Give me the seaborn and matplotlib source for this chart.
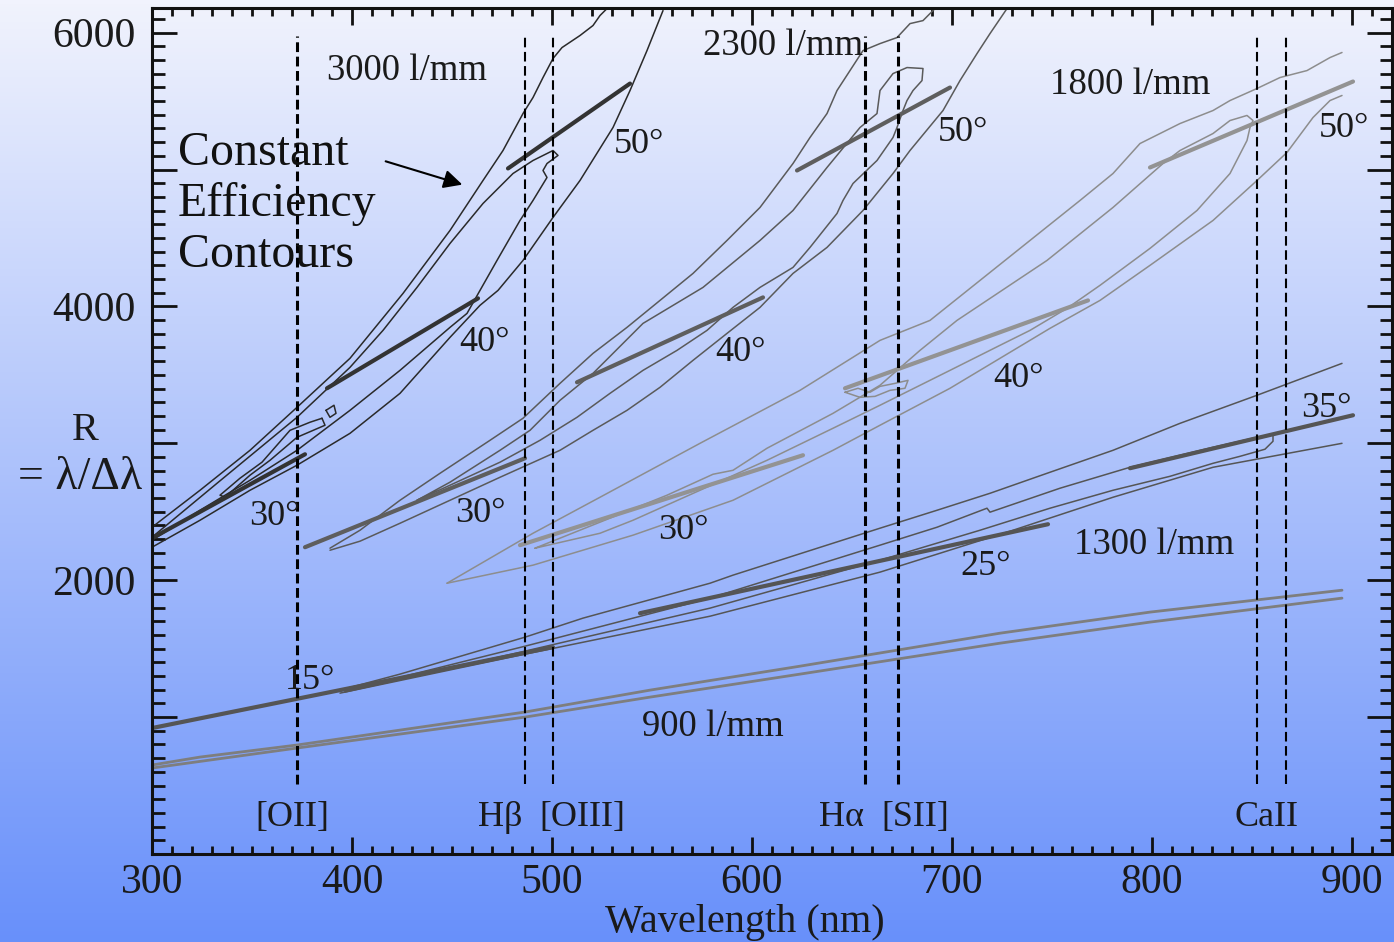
import numpy as np
import pandas as pd
import seaborn as sns
import matplotlib.pyplot as plt
from matplotlib.ticker import MultipleLocator, FuncFormatter

# ---------------- data: (wavelength nm, R) ----------------

# 3000 l/mm
g3000_outer_top = [(300, 2387), (324, 2657), (349, 2949), (372.5, 3263), (399, 3621), (425.5, 4095),
                   (449, 4555), (465.5, 4920), (475.5, 5139), (485.5, 5409), (490.5, 5526), (495.5, 5672),
                   (500.5, 5811), (505, 5891), (514, 5979), (520.5, 6052), (524, 6125), (527.5, 6176)]
g3000_outer_bot = [(300, 2241), (324, 2438), (349, 2657), (372.5, 2840), (399, 3073), (424, 3365),
                   (449, 3774), (464, 4008), (473, 4117), (485.5, 4336), (500.5, 4650), (514, 4920),
                   (530.5, 5307), (539, 5577), (547.5, 5869), (555.5, 6161)]
g3000_inner = [(300, 2314), (332.5, 2708), (372.5, 3190), (399, 3555), (415.5, 3825), (432.5, 4139),
               (449, 4460), (465.5, 4752), (480.5, 4971), (490.5, 5066), (497.5, 5117), (500.5, 5139),
               (503, 5103), (497.5, 5044), (495.5, 4993), (497.5, 4942), (490.5, 4774), (484, 4628),
               (472.5, 4336), (464, 4117), (457.5, 3949), (449, 3847), (424, 3533), (399, 3241),
               (372.5, 2949), (349, 2730), (324, 2511), (300, 2292)]
g3000_island = [(385, 3183), (386.5, 3132), (372.5, 3044), (359, 2876), (349, 2767), (336.5, 2606),
                (334, 2621), (344, 2745), (355, 2862), (369, 3095), (379, 3154), (385, 3183)]
g3000_quad = [(387, 3241), (391, 3278), (392, 3219), (389, 3190), (387, 3241)]
tilt_3000 = [[(478, 5008), (539, 5628)], [(387.5, 3402), (463, 4059)], [(300, 2307), (376.5, 2920)]]

# 2300 l/mm
g2300_outer_top = [(389, 2234), (404, 2365), (424, 2584), (444, 2781), (469, 3022), (485.5, 3183),
                   (504, 3438), (520.5, 3657), (537.5, 3847), (554, 4044), (570.5, 4241), (587.5, 4482),
                   (604, 4723), (620.5, 5044), (629, 5234), (637.5, 5409), (642.5, 5577), (649, 5723),
                   (655.5, 5869), (664, 5920), (672.5, 5964), (679, 6066), (685.5, 6088), (691.5, 6176)]
g2300_outer_bot = [(389, 2219), (404, 2285), (424, 2416), (449, 2584), (474, 2752), (504, 2949),
                   (520.5, 3095), (537.5, 3241), (554, 3409), (570.5, 3606), (587.5, 3803), (604, 3993),
                   (620.5, 4241), (637.5, 4431), (655.5, 4701), (670.5, 4971), (679, 5139), (695.5, 5431),
                   (704, 5650), (712.5, 5847), (719, 5993), (727.5, 6176)]
g2300_inner = [(432.5, 2584), (449, 2716), (474, 2949), (489, 3095), (504, 3314), (520.5, 3511),
               (545.5, 3876), (575.5, 4139), (604, 4482), (620.5, 4701), (637.5, 5015), (654, 5307),
               (662.5, 5409), (664, 5577), (670.5, 5701), (677.5, 5745), (685.5, 5738), (685, 5650),
               (680.5, 5577), (677.5, 5504), (675.5, 5431), (672.5, 5307), (670.5, 5234), (662.5, 5066),
               (650.5, 4898), (645.5, 4774), (642.5, 4679), (629, 4431), (620.5, 4285), (604, 4139),
               (590.5, 3993), (577.5, 3825), (562.5, 3679), (545.5, 3533), (529, 3365), (512.5, 3190),
               (494, 3022), (474, 2862), (449, 2694), (432.5, 2584)]
tilt_2300 = [[(622.5, 4993), (699, 5599)], [(512.5, 3446), (605.5, 4066)], [(376.5, 2241), (486.5, 2891)]]

# 1800 l/mm
g1800_outer_top = [(447.5, 1978), (490.5, 2343), (524, 2606), (574, 3000), (624, 3387), (664, 3752),
                   (689, 3898), (701.5, 4044), (714, 4190), (739, 4482), (764, 4774), (780.5, 4971),
                   (794, 5190), (804, 5263), (814, 5336), (830.5, 5431), (839, 5504), (852.5, 5592),
                   (864, 5672), (877.5, 5723), (889, 5818), (895, 5855)]
g1800_outer_bot = [(447.5, 1978), (490.5, 2110), (540.5, 2329), (590.5, 2584), (640.5, 2949), (664, 3132),
                   (699, 3402), (724, 3621), (749, 3840), (774, 4044), (799, 4300), (830.5, 4628),
                   (852.5, 4920), (867.5, 5125), (880.5, 5380), (889, 5504), (895, 5541)]
g1800_inner = [(491.5, 2234), (524, 2424), (557.5, 2621), (580.5, 2774), (590.5, 2803), (607.5, 2964),
               (640.5, 3219), (664, 3424), (684, 3679), (702.5, 3898), (747.5, 4336), (780.5, 4723),
               (805.5, 5044), (814, 5139), (830.5, 5263), (839, 5358), (847.5, 5395), (850.5, 5358),
               (849, 5307), (847.5, 5212), (839, 4971), (822.5, 4701), (799, 4424), (774, 4154),
               (757.5, 3986), (739, 3825), (724, 3716), (699, 3533), (674, 3351), (664, 3278),
               (640.5, 3110), (607.5, 2876), (574, 2657), (540.5, 2438), (524, 2343), (491.5, 2234)]
g1800_island = [(646.5, 3373), (653, 3402), (659, 3373), (664, 3416), (671.5, 3438), (678, 3460),
                (676.5, 3402), (669, 3387), (661.5, 3343), (654, 3336), (646.5, 3373)]
tilt_1800 = [[(799, 5015), (900.5, 5643)], [(646.5, 3402), (768, 4044)], [(484, 2256), (625.5, 2913)]]

# 1300 l/mm
g1300_outer_top = [(394, 1197), (424, 1314), (486.5, 1584), (515.5, 1723), (579, 1978), (590.5, 2037),
                   (664, 2380), (692.5, 2511), (719, 2635), (747.5, 2781), (780.5, 2949), (814, 3146),
                   (852.5, 3351), (895, 3584)]
g1300_outer_bot = [(394, 1175), (486.5, 1460), (579, 1737), (664, 2059), (730.5, 2365), (780.5, 2606),
                   (830.5, 2825), (895, 3000)]
g1300_inner = [(396.5, 1190), (486.5, 1518), (579, 1869), (664, 2256), (692.5, 2387), (717.5, 2526),
               (719, 2497), (754, 2672), (789, 2825), (830.5, 2971), (852.5, 3044), (860.5, 3066),
               (860.5, 3015), (856.5, 2957), (844, 2905), (830.5, 2854), (809, 2759), (780.5, 2657),
               (749, 2526), (714, 2365), (664, 2146), (579, 1796), (486.5, 1482), (396.5, 1183)]
tilt_1300 = [[(789, 2818), (900.5, 3205)], [(544, 1759), (748, 2409)], [(300, 920), (500.5, 1511)]]

# 900 l/mm
g900_a = [(300, 650), (324, 708), (372.5, 796), (424, 905), (486.5, 1037), (549, 1197), (624, 1372),
          (724, 1613), (799, 1767), (895, 1927)]
g900_b = [(300, 628), (372.5, 774), (486.5, 1000), (549, 1146), (624, 1314), (724, 1540), (799, 1694),
          (895, 1869)]

# emission lines
line_wl = [372.5, 486.5, 500.5, 656.5, 672.8, 852.5, 867]
line_lw = [2.2, 1.5, 1.5, 2.2, 2.2, 1.5, 1.5]
line_names = ['[OII]', 'Hβ', '[OIII]', 'Hα', '[SII]', 'CaII']
line_name_wl = [370, 474, 515, 645, 681.5, 857.5]

# labels
grating_labels = ['3000 l/mm', '2300 l/mm', '1800 l/mm', '1300 l/mm', '900 l/mm']
grating_label_wl = [427.5, 615.5, 789, 801, 580.5]
grating_label_R = [5723, 5906, 5621, 2256, 927]

angle_labels = ['50°', '40°', '30°', '50°', '40°', '30°', '50°', '40°', '30°', '35°', '25°', '15°']
angle_wl = [543.5, 466.5, 361, 705.5, 594.5, 464, 896, 733, 565.5, 887, 717, 379]
angle_R = [5183, 3738, 2467, 5271, 3665, 2489, 5300, 3475, 2365, 3256, 2102, 1270]

# ---------------- plotting ----------------
sns.set_style("ticks")
plt.rcParams['font.family'] = ['Liberation Serif', 'DejaVu Serif']

fig = plt.figure(figsize=(13.94, 9.42), dpi=100)

# gradient background
bg = fig.add_axes([0, 0, 1, 1], zorder=-10)
top_col = np.array([241, 243, 253]) / 255
bot_col = np.array([104, 144, 250]) / 255
t = np.linspace(0, 1, 256)[:, None, None]
grad = top_col[None, None, :] * (1 - t) + bot_col[None, None, :] * t
bg.imshow(grad, aspect='auto', extent=[0, 1, 0, 1])
bg.set_axis_off()

ax = fig.add_axes([152 / 1394, 1 - 854 / 942, 1240 / 1394, 846 / 942])
ax.set_facecolor('none')


def draw(pts, color, lw):
    df = pd.DataFrame(pts, columns=['wl', 'R'])
    sns.lineplot(data=df, x='wl', y='R', sort=False, estimator=None,
                 color=color, linewidth=lw, ax=ax)


# thin contours
for c in [g3000_outer_top, g3000_outer_bot, g3000_inner, g3000_island, g3000_quad]:
    draw(c, '#2a2a2a', 1.1)
for c in [g2300_outer_top, g2300_outer_bot, g2300_inner]:
    draw(c, '#5a5a5a', 1.1)
for c in [g1800_outer_top, g1800_outer_bot, g1800_inner, g1800_island]:
    draw(c, '#8d8d8d', 1.1)
for c in [g1300_outer_top, g1300_outer_bot, g1300_inner]:
    draw(c, '#555555', 1.1)
for c in [g900_a, g900_b]:
    draw(c, '#7e7e7e', 2.0)

# thick tilt lines
for seg in tilt_3000:
    draw(seg, '#333333', 3.0)
for seg in tilt_2300:
    draw(seg, '#5e5e5e', 3.0)
for seg in tilt_1800:
    draw(seg, '#939393', 3.0)
for seg in tilt_1300:
    draw(seg, '#555555', 3.0)

# emission lines
for wl, lw in zip(line_wl, line_lw):
    dash = (0, (3.2, 1.5)) if lw > 2 else (0, (4.6, 2.2))
    ax.plot([wl, wl], [510, 5975], color='black', lw=lw, ls=dash)
for name, wl in zip(line_names, line_name_wl):
    ax.text(wl, 263, name, ha='center', va='center', fontsize=26, color='#1a1a1a')

for txt, wl, r in zip(grating_labels, grating_label_wl, grating_label_R):
    ax.text(wl, r, txt, ha='center', va='center', fontsize=26.5, color='#1a1a1a')
for txt, wl, r in zip(angle_labels, angle_wl, angle_R):
    ax.text(wl, r, txt, ha='center', va='center', fontsize=26, color='#1a1a1a')

ax.text(313, 4749, 'Constant\nEfficiency\nContours', ha='left', va='center',
        fontsize=34.5, color='#111111', linespacing=1.2)
ax.annotate('', xy=(456.5, 4884), xytext=(415.5, 5066),
            arrowprops=dict(arrowstyle='-|>', color='black', lw=1.5, mutation_scale=28))

# axes
ax.set_xlim(300, 920)
ax.set_ylim(0, 6180)
ax.xaxis.set_major_locator(MultipleLocator(100))
ax.xaxis.set_minor_locator(MultipleLocator(10))
ax.yaxis.set_major_locator(MultipleLocator(1000))
ax.yaxis.set_minor_locator(MultipleLocator(100))
ax.yaxis.set_major_formatter(FuncFormatter(lambda v, p: f"{int(v)}" if int(v) in (2000, 4000, 6000) else ''))

ax.tick_params(which='both', direction='in', top=True, right=True, width=2, color='#111111',
               labelcolor='#1a1a1a')
ax.tick_params(axis='x', which='major', length=12, labelsize=30, pad=7)
ax.tick_params(axis='x', which='minor', length=6)
ax.tick_params(axis='y', which='major', length=18, labelsize=30, pad=12)
ax.tick_params(axis='y', which='minor', length=9)
for s in ax.spines.values():
    s.set_linewidth(2.2)
    s.set_color('#111111')

ax.set_xlabel('Wavelength (nm)', fontsize=29, color='#1a1a1a')
ax.xaxis.set_label_coords(0.478, -0.059)
ax.set_ylabel('')

fig.text(85 / 1394, 1 - 430 / 942, 'R', fontsize=29, ha='center', va='center', color='#1a1a1a')
fig.text(80 / 1394, 1 - 478 / 942, '= λ/Δλ', fontsize=33, ha='center', va='center', color='#1a1a1a')

fig.savefig('out.png', dpi=100)
